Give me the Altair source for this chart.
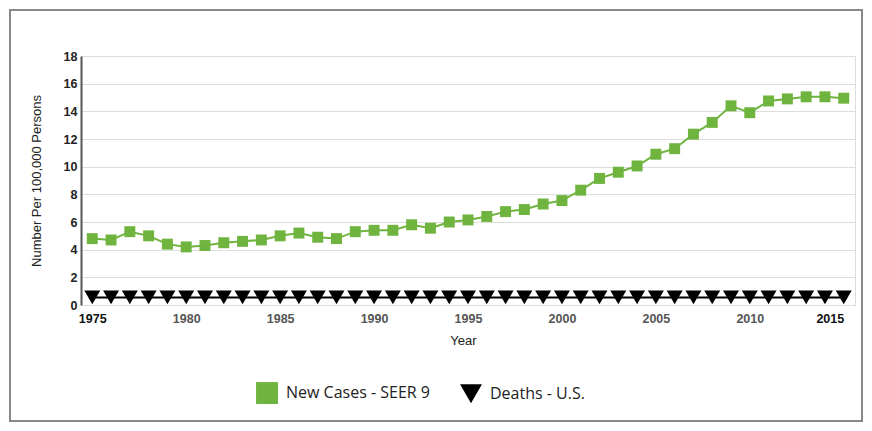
import altair as alt
import pandas as pd

years = list(range(1975, 2016))
new_cases = [4.8, 4.7, 5.3, 5.0, 4.4, 4.2, 4.3, 4.5, 4.6, 4.7,
             5.0, 5.2, 4.9, 4.8, 5.3, 5.4, 5.4, 5.8, 5.55, 6.0,
             6.15, 6.4, 6.75, 6.9, 7.3, 7.55, 8.3, 9.15, 9.6, 10.05,
             10.9, 11.3, 12.35, 13.2, 14.4, 13.9, 14.75, 14.9, 15.05, 15.05, 14.95]
deaths = [0.55] * 41
series_names = ["New Cases - SEER 9", "Deaths - U.S."]
series_colors = ["#6fb43f", "#000000"]
series_shapes = ["square", "triangle-down"]

df = pd.DataFrame({
    "Year": years * 2,
    "Value": new_cases + deaths,
    "Series": [series_names[0]] * len(years) + [series_names[1]] * len(years),
})

ends = "datum.value == 1975 || datum.value == 2015"
xenc = alt.X("Year:Q", scale=alt.Scale(domain=[1974.4, 2015.6], nice=False, zero=False),
             axis=alt.Axis(values=list(range(1975, 2016, 5)), format="d", title="Year",
                           grid=False, domain=False, ticks=False,
                           labelAlign=alt.condition("datum.value == 2015", alt.value("right"), alt.value("center")),
                           labelFont="Liberation Sans", labelFontSize=12.5, labelFontWeight="bold",
                           labelColor=alt.condition(ends, alt.value("#111111"), alt.value("#555555")),
                           labelPadding=7, titleFont="Liberation Sans", titleFontSize=13,
                           titleFontWeight="normal", titleColor="#222222", titlePadding=10,
                           titleX=382))
yenc = alt.Y("Value:Q", scale=alt.Scale(domain=[0, 18], nice=False),
             axis=alt.Axis(values=list(range(0, 19, 2)), title="Number Per 100,000 Persons",
                           grid=True, gridColor="#dddddd", domain=True, domainColor="#555555",
                           domainWidth=2, ticks=False, labelFont="Liberation Sans",
                           labelFontSize=12.5, labelFontWeight="bold", labelColor="#222222",
                           labelPadding=4, titleFont="Liberation Sans", titleFontSize=13,
                           titleFontWeight="normal", titleColor="#222222", titlePadding=20))

legend = alt.Legend(title=None, orient="none", direction="horizontal",
                    legendX=175, legendY=326,
                    labelFont="Open Sans", labelFontSize=16, labelColor="#222222",
                    columnPadding=30, symbolStrokeWidth=0, labelOffset=8,
                    symbolSize=480, labelLimit=300)
color = alt.Color("Series:N", scale=alt.Scale(domain=series_names, range=series_colors), legend=legend)
shape = alt.Shape("Series:N", scale=alt.Scale(domain=series_names, range=series_shapes), legend=legend)

base = alt.Chart(df)
lines = base.mark_line(strokeWidth=2).encode(
    x=xenc, y=yenc, color=color, detail="Series:N")
pts_cases = base.transform_filter(alt.datum.Series == series_names[0]).mark_point(
    filled=True, opacity=1, size=120).encode(x=xenc, y=yenc, color=color, shape=shape)
pts_deaths = base.transform_filter(alt.datum.Series == series_names[1]).mark_point(
    filled=True, opacity=1, size=256).encode(x=xenc, y=yenc, color=color, shape=shape)

border = base.mark_rect(fill=None, stroke="#888888", strokeWidth=1.5, clip=False).encode(
    x=alt.value(-71), x2=alt.value(781), y=alt.value(-46), y2=alt.value(365))

chart = alt.layer(border, lines, pts_cases, pts_deaths).properties(
    width=774, height=249,
    autosize=alt.AutoSizeParams(type="none"),
    padding={"left": 73, "top": 48, "right": 9, "bottom": 118},
).configure_view(stroke=None).configure(background="white")

chart.save("out.html", embed_options={"renderer": "svg", "actions": False})
